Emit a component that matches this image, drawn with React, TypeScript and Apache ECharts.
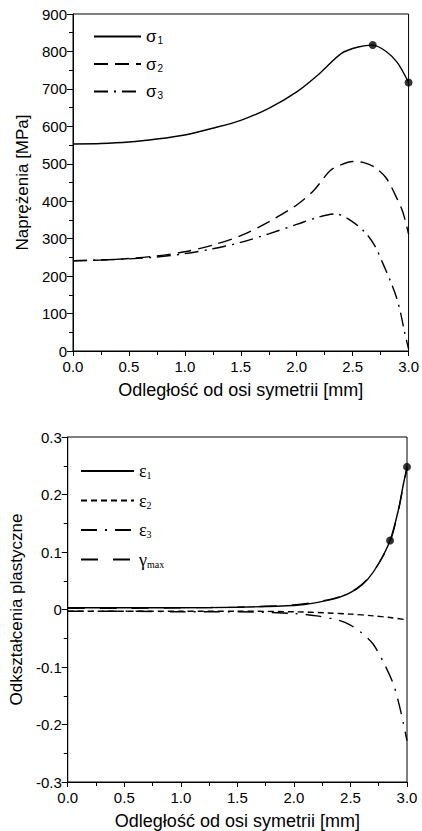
import React, { useEffect, useRef } from "react";
import * as echarts from "echarts";

// ---- Top chart: stresses [MPa] vs distance [mm]
const s1X = [0, 0.25, 0.5, 0.75, 1.0, 1.25, 1.5, 1.75, 2.0, 2.2, 2.4, 2.55, 2.68, 2.8, 2.9, 3.0];
const s1Y = [553, 554, 558, 566, 577, 595, 616, 648, 692, 740, 795, 812, 817, 800, 770, 717];

const s2X = [0, 0.25, 0.5, 0.75, 1.0, 1.25, 1.5, 1.75, 2.0, 2.15, 2.3, 2.4, 2.5, 2.6, 2.7, 2.8, 2.9, 2.95, 3.0];
const s2Y = [241, 243, 247, 254, 265, 283, 308, 345, 390, 428, 482, 498, 506, 503, 490, 462, 405, 370, 312];

const s3X = [0, 0.25, 0.5, 0.75, 1.0, 1.25, 1.5, 1.75, 2.0, 2.2, 2.35, 2.5, 2.62, 2.7, 2.77, 2.84, 2.89, 2.93, 2.96, 3.0];
const s3Y = [241, 243, 246, 251, 260, 273, 290, 313, 338, 358, 366, 345, 314, 280, 234, 185, 145, 100, 56, 5];

const s1Dots = [[2.68, 817], [3.0, 717]];

// ---- Bottom chart: plastic strains vs distance [mm]
const e1X = [0, 0.5, 1.0, 1.5, 2.0, 2.2, 2.4, 2.55, 2.65, 2.75, 2.85, 2.92, 2.97, 3.0];
const e1Y = [0.003, 0.003, 0.003, 0.004, 0.007, 0.012, 0.021, 0.035, 0.052, 0.08, 0.12, 0.17, 0.22, 0.248];

const gX = [0, 0.5, 1.0, 1.5, 2.0, 2.2, 2.4, 2.55, 2.65, 2.75, 2.85, 2.92, 2.97, 3.0];
const gY = [0.002, 0.002, 0.003, 0.004, 0.008, 0.013, 0.022, 0.036, 0.053, 0.08, 0.118, 0.168, 0.218, 0.245];

const e2X = [0, 0.5, 1.0, 1.5, 2.0, 2.3, 2.5, 2.7, 2.85, 3.0];
const e2Y = [-0.003, -0.003, -0.003, -0.003, -0.004, -0.006, -0.008, -0.011, -0.014, -0.018];

const e3X = [0, 0.5, 1.0, 1.5, 2.0, 2.2, 2.4, 2.5, 2.6, 2.7, 2.8, 2.88, 2.93, 2.97, 3.0];
const e3Y = [-0.003, -0.003, -0.004, -0.004, -0.007, -0.011, -0.019, -0.027, -0.041, -0.06, -0.095, -0.13, -0.165, -0.2, -0.228];

const e1Dots = [[2.85, 0.12], [3.0, 0.248]];

const xTitle = "Odległość od osi symetrii [mm]";
const yTitleTop = "Naprężenia [MPa]";
const yTitleBottom = "Odkształcenia plastyczne";

const SANS = "'Liberation Sans', Arial, sans-serif";
const SERIF = "'Liberation Serif', 'Times New Roman', serif";

const zip = (xs: number[], ys: number[]) => xs.map((x, i) => [x, ys[i]]);

function xAxis(gridIndex: number) {
  return {
    type: "value",
    gridIndex,
    min: 0,
    max: 3,
    interval: 0.5,
    axisLine: { show: true, onZero: false, lineStyle: { color: "#000", width: 1 } },
    axisTick: { show: true, length: 5, lineStyle: { color: "#000" } },
    minorTick: { show: true, splitNumber: 2, length: 4, lineStyle: { color: "#000" } },
    splitLine: { show: false },
    axisLabel: {
      color: "#000",
      fontSize: 15,
      fontFamily: SANS,
      margin: 8,
      formatter: (v: number) => v.toFixed(1),
    },
    name: xTitle,
    nameLocation: "middle",
    nameGap: 30,
    nameTextStyle: { color: "#000", fontSize: 18, fontFamily: SANS },
  };
}

function yAxis(gridIndex: number, min: number, max: number, interval: number, fmt: (v: number) => string, name: string, nameGap: number) {
  return {
    type: "value",
    gridIndex,
    min,
    max,
    interval,
    axisLine: { show: true, onZero: false, lineStyle: { color: "#000", width: 1 } },
    axisTick: { show: true, length: 6, lineStyle: { color: "#000" } },
    minorTick: { show: true, splitNumber: 2, length: 4, lineStyle: { color: "#000" } },
    splitLine: { show: false },
    axisLabel: { color: "#000", fontSize: 15, fontFamily: SANS, margin: 6, formatter: fmt },
    name,
    nameLocation: "middle",
    nameGap,
    nameTextStyle: { color: "#000", fontSize: 17, fontFamily: SANS },
  };
}

function lineSeries(name: string, data: number[][], idx: number, type: any) {
  return {
    type: "line",
    name,
    xAxisIndex: idx,
    yAxisIndex: idx,
    data,
    smooth: 0.3,
    symbol: "none",
    showSymbol: false,
    lineStyle: { color: "#000", width: 1.4, type },
    itemStyle: { color: "#000" },
    z: 3,
  };
}

function dotSeries(data: number[][], idx: number) {
  return {
    type: "scatter",
    name: "dots" + idx,
    xAxisIndex: idx,
    yAxisIndex: idx,
    data,
    symbol: "circle",
    symbolSize: 8,
    itemStyle: { color: "#000" },
    clip: false,
    z: 4,
  };
}

const sub = (n: string) => {
  const map: Record<string, string> = {
    s1: "{a|σ}{b|1}",
    s2: "{a|σ}{b|2}",
    s3: "{a|σ}{b|3}",
    e1: "{c|ε}{d|1}",
    e2: "{c|ε}{d|2}",
    e3: "{c|ε}{d|3}",
    g: "{c|γ}{d|max}",
  };
  return map[n] || n;
};

const hiddenSymbol = { color: "rgba(0,0,0,0)", opacity: 0, borderWidth: 0 };

export default function App() {
  const ref = useRef<HTMLDivElement>(null);
  useEffect(() => {
    document.body.style.margin = "0";
    const chart = echarts.init(ref.current!, null, { renderer: "svg" });
    const option: any = {
      animation: false,
      backgroundColor: "#fff",
      grid: [
        { left: 73, top: 14, width: 337, height: 337, show: true, borderColor: "#000", borderWidth: 1, backgroundColor: "transparent" },
        { left: 67, top: 437, width: 340, height: 345, show: true, borderColor: "#000", borderWidth: 1, backgroundColor: "transparent" },
      ],
      xAxis: [xAxis(0), xAxis(1)],
      yAxis: [
        yAxis(0, 0, 900, 100, (v: number) => String(v), yTitleTop, 40),
        yAxis(1, -0.3, 0.3, 0.1, (v: number) => (Math.abs(v) < 1e-9 ? "0" : v.toFixed(1)), yTitleBottom, 33),
      ],
      legend: [
        {
          orient: "vertical",
          left: 93,
          top: 28,
          padding: 0,
          itemWidth: 47,
          itemHeight: 14,
          itemGap: 10,
          data: ["s1", "s2", "s3"],
          formatter: sub,
          itemStyle: hiddenSymbol,
          textStyle: {
            color: "#000",
            rich: {
              a: { fontFamily: SANS, fontSize: 17, color: "#000" },
              b: { fontFamily: SANS, fontSize: 10, color: "#000", padding: [8, 0, 0, 1] },
            },
          },
        },
        {
          orient: "vertical",
          left: 80,
          top: 462,
          padding: 0,
          itemWidth: 53,
          itemHeight: 16,
          itemGap: 11,
          data: ["e1", "e2", "e3", "g"],
          formatter: sub,
          itemStyle: hiddenSymbol,
          textStyle: {
            color: "#000",
            rich: {
              c: { fontFamily: SERIF, fontSize: 18, color: "#000" },
              d: { fontFamily: SERIF, fontSize: 10, color: "#000", padding: [9, 0, 0, 0] },
            },
          },
        },
      ],
      series: [
        lineSeries("s1", zip(s1X, s1Y), 0, "solid"),
        lineSeries("s2", zip(s2X, s2Y), 0, [14, 7]),
        lineSeries("s3", zip(s3X, s3Y), 0, [14, 6, 2, 6]),
        dotSeries(s1Dots, 0),
        lineSeries("e1", zip(e1X, e1Y), 1, "solid"),
        lineSeries("e2", zip(e2X, e2Y), 1, [6, 4]),
        lineSeries("e3", zip(e3X, e3Y), 1, [16, 8, 2, 8]),
        lineSeries("g", zip(gX, gY), 1, [17, 15]),
        dotSeries(e1Dots, 1),
      ],
    };
    chart.setOption(option);
    return () => chart.dispose();
  }, []);
  return <div ref={ref} style={{ width: 422, height: 831 }} />;
}
